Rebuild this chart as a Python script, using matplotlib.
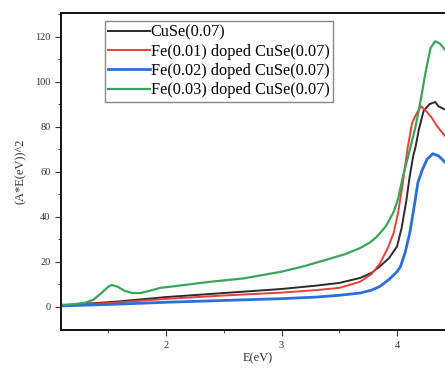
import numpy as np
import matplotlib.pyplot as plt

plt.rcParams['font.family'] = ['Liberation Serif', 'DejaVu Serif']

# E(eV) values and (A*E)^2
e_black = [1.09, 1.3, 1.6, 2.0, 2.5, 3.0, 3.3, 3.5, 3.68, 3.78, 3.85, 3.93, 4.0, 4.04, 4.08, 4.11, 4.14, 4.16, 4.19, 4.23, 4.28, 4.33, 4.36, 4.4, 4.45, 4.5]
y_black = [0.5, 1.2, 2.3, 4.2, 6.0, 7.8, 9.3, 10.5, 12.7, 15.0, 17.8, 21.5, 26.7, 35, 47, 58, 67, 71, 79, 87, 90, 91, 89, 88, 87, 86]

e_red = [1.09, 1.3, 1.6, 2.0, 2.5, 3.0, 3.3, 3.5, 3.68, 3.78, 3.85, 3.92, 3.97, 4.01, 4.05, 4.09, 4.13, 4.17, 4.21, 4.25, 4.3, 4.35, 4.42, 4.5]
y_red = [0.5, 1.0, 1.9, 3.4, 4.9, 6.2, 7.3, 8.3, 11.0, 14.5, 19.0, 26, 32.6, 42, 55, 70, 81.6, 86, 89, 87, 84, 80, 75.6, 72]

e_blue = [1.09, 1.3, 1.6, 2.0, 2.5, 3.0, 3.3, 3.5, 3.68, 3.78, 3.85, 3.93, 4.0, 4.03, 4.07, 4.11, 4.15, 4.18, 4.22, 4.26, 4.31, 4.36, 4.42, 4.5]
y_blue = [0.3, 0.6, 1.1, 1.9, 2.7, 3.5, 4.2, 5.0, 6.0, 7.3, 8.9, 12, 15.5, 17.8, 24, 32.7, 45, 55, 61, 65.5, 68, 67, 64, 62]

e_green = [1.09, 1.2, 1.3, 1.37, 1.44, 1.5, 1.53, 1.58, 1.64, 1.71, 1.78, 1.86, 1.95, 2.1, 2.38, 2.67, 3.0, 3.2, 3.42, 3.55, 3.68, 3.76, 3.82, 3.9, 3.97, 4.01, 4.05, 4.11, 4.16, 4.2, 4.25, 4.29, 4.33, 4.37, 4.42, 4.5]
y_green = [0.7, 1.0, 1.7, 3.0, 6.0, 8.8, 9.6, 8.8, 7.0, 6.0, 6.0, 7.0, 8.3, 9.2, 11.0, 12.5, 15.5, 18.0, 21.3, 23.3, 26.0, 28.3, 30.8, 35.5, 42, 48, 57.7, 69.6, 80, 90.5, 105, 115, 118, 117, 114, 112]

labels = ['CuSe(0.07)', 'Fe(0.01) doped CuSe(0.07)', 'Fe(0.02) doped CuSe(0.07)', 'Fe(0.03) doped CuSe(0.07)']

fig = plt.figure(figsize=(4.45, 3.76), dpi=100)
ax = fig.add_axes([0.137, 0.122, 0.885, 0.843])

ax.plot(e_black, y_black, color='#2b2b2b', lw=1.4, label=labels[0])
ax.plot(e_red, y_red, color='#e8403a', lw=1.4, label=labels[1])
ax.plot(e_blue, y_blue, color='#2b6fd8', lw=2.0, label=labels[2])
ax.plot(e_green, y_green, color='#3aa55a', lw=1.6, label=labels[3])

ax.set_xlim(1.09, 4.5)
ax.set_ylim(-10.5, 130.5)
ax.set_xticks([2, 3, 4])
ax.set_xticks([1.5, 2.5, 3.5, 4.5], minor=True)
ax.set_yticks(np.arange(0, 121, 20))
ax.set_yticks(np.arange(10, 131, 20), minor=True)
ax.tick_params(which='both', direction='out', labelsize=7.5, colors='#333333')
ax.tick_params(which='major', length=4)
ax.tick_params(which='minor', length=2.5)
for s in ax.spines.values():
    s.set_linewidth(1.3)

ax.set_xlabel('E(eV)', fontsize=9, color='#333333', labelpad=2)
ax.set_ylabel('(A*E(eV))^2', fontsize=9, color='#333333', labelpad=6)

ax.legend(loc='upper left', bbox_to_anchor=(0.09, 1.0), fontsize=11.7, handlelength=2.6,
          handletextpad=0.05, labelspacing=0.2, borderpad=0.2, fancybox=False,
          edgecolor='#888888', framealpha=1)

fig.savefig('out.png', dpi=100)
